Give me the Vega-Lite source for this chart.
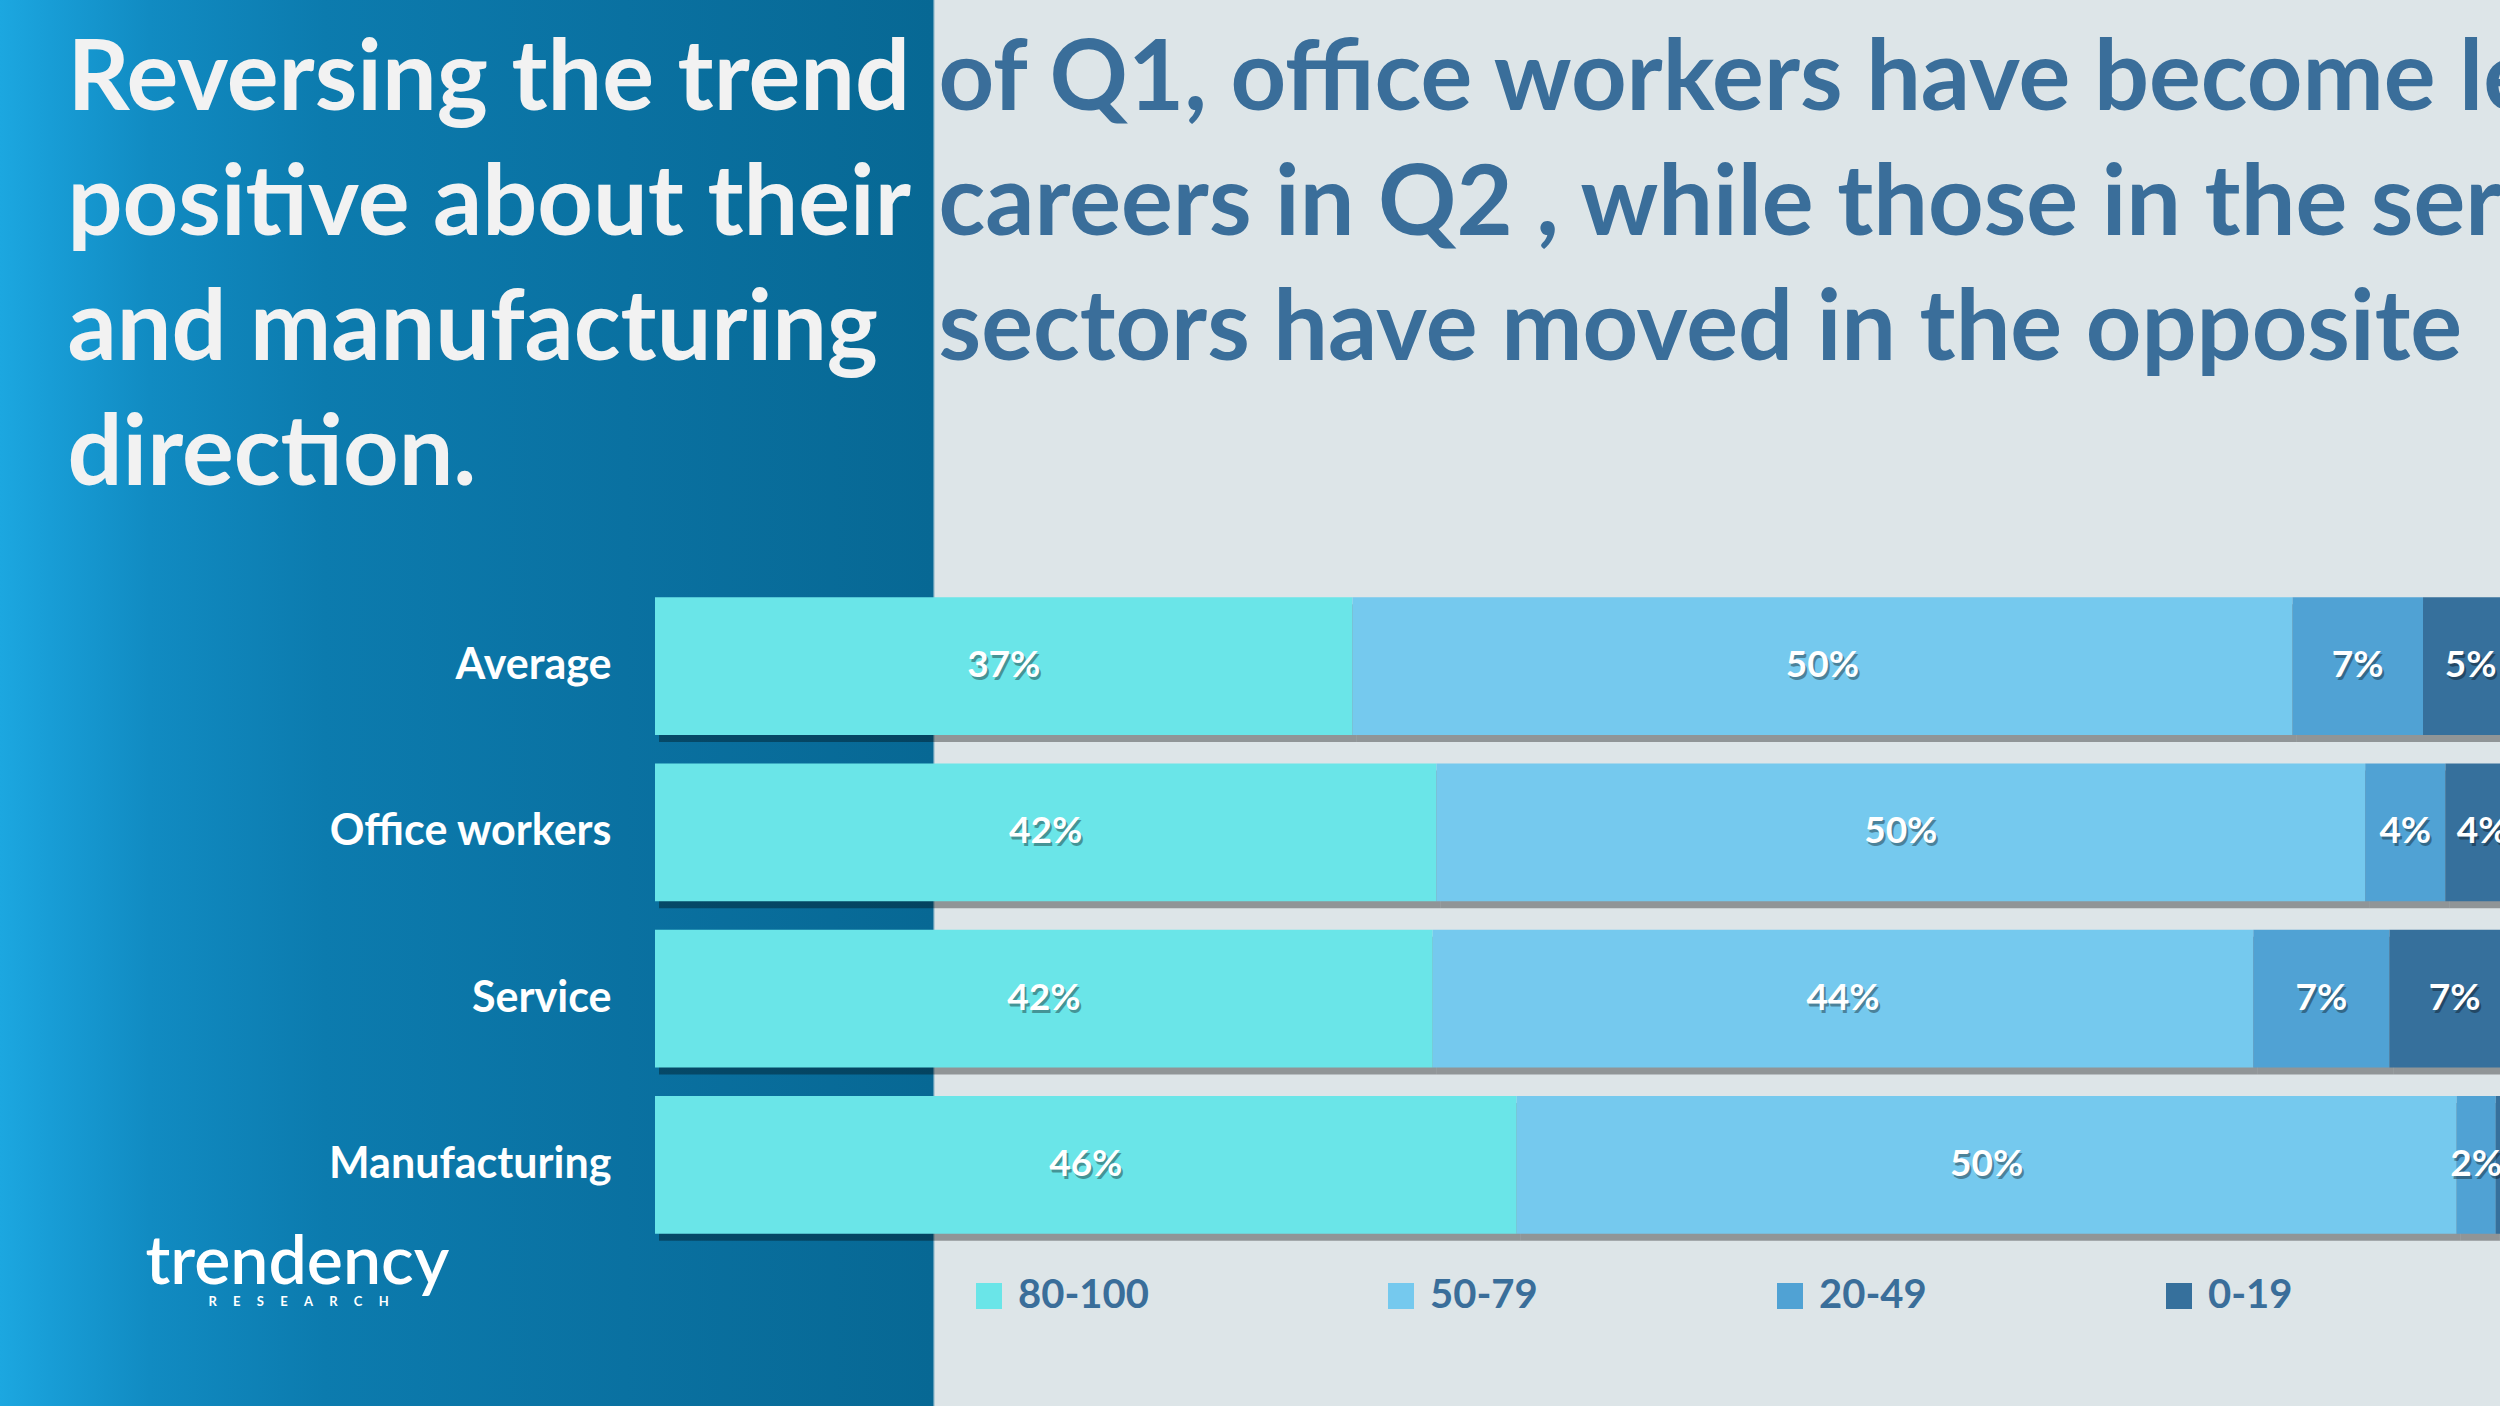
{
  "$schema": "https://vega.github.io/schema/vega-lite/v6.json",
  "width": 2500,
  "height": 1406,
  "autosize": {"type": "none"},
  "padding": 0,
  "background": "#DDE5E8",
  "view": {
    "stroke": null,
    "fill": {
      "gradient": "linear", "x1": 0, "y1": 0, "x2": 1, "y2": 0,
      "stops": [
        {"offset": 0, "color": "#1CA7E0"},
        {"offset": 0.02, "color": "#189DD6"},
        {"offset": 0.06, "color": "#118BC2"},
        {"offset": 0.13, "color": "#0C7BAE"},
        {"offset": 0.25, "color": "#0A71A1"},
        {"offset": 0.373, "color": "#076894"},
        {"offset": 0.374, "color": "#DDE5E8"},
        {"offset": 1, "color": "#DDE5E8"}
      ]
    }
  },
  "config": {"font": "Lato", "axis": {"grid": false}},
  "data": {
    "values": [
      {"group": "Average", "band": "80-100", "order": 1, "value": 0.374},
      {"group": "Average", "band": "50-79", "order": 2, "value": 0.504},
      {"group": "Average", "band": "20-49", "order": 3, "value": 0.070},
      {"group": "Average", "band": "0-19", "order": 4, "value": 0.051},
      {"group": "Office workers", "band": "80-100", "order": 1, "value": 0.419},
      {"group": "Office workers", "band": "50-79", "order": 2, "value": 0.498},
      {"group": "Office workers", "band": "20-49", "order": 3, "value": 0.043},
      {"group": "Office workers", "band": "0-19", "order": 4, "value": 0.040},
      {"group": "Service", "band": "80-100", "order": 1, "value": 0.417},
      {"group": "Service", "band": "50-79", "order": 2, "value": 0.440},
      {"group": "Service", "band": "20-49", "order": 3, "value": 0.073},
      {"group": "Service", "band": "0-19", "order": 4, "value": 0.070},
      {"group": "Manufacturing", "band": "80-100", "order": 1, "value": 0.462},
      {"group": "Manufacturing", "band": "50-79", "order": 2, "value": 0.504},
      {"group": "Manufacturing", "band": "20-49", "order": 3, "value": 0.021},
      {"group": "Manufacturing", "band": "0-19", "order": 4, "value": 0.013}
    ]
  },
  "transform": [
    {"stack": "value", "groupby": ["group"], "sort": [{"field": "order"}], "as": ["v0", "v1"]},
    {"calculate": "(datum.v0 + datum.v1) / 2", "as": "mid"}
  ],
  "resolve": {"axis": {"x": "independent", "y": "independent"}},
  "layer": [
    {
      "mark": {"type": "bar", "color": "#000000", "opacity": 0.35, "yOffset": 7, "xOffset": 4, "x2Offset": 4, "clip": true},
      "encoding": {
        "y": {"field": "group", "type": "nominal", "sort": ["Average", "Office workers", "Service", "Manufacturing"],
              "scale": {"range": [583, 1248], "paddingInner": 0.17, "paddingOuter": 0.085}, "axis": null},
        "x": {"field": "v0", "type": "quantitative", "scale": {"domain": [0, 1], "range": [655, 2520], "nice": false, "zero": false}, "axis": null},
        "x2": {"field": "v1"}
      }
    },
    {
      "mark": {"type": "bar", "clip": true},
      "encoding": {
        "y": {"field": "group", "type": "nominal", "sort": ["Average", "Office workers", "Service", "Manufacturing"],
              "axis": {
                "orient": "left", "offset": -655, "domain": false, "ticks": false, "tickSize": 0, "grid": false,
                "labelPadding": 44, "labelLimit": 700, "labelFontSize": 43, "labelFontWeight": "bold", "labelColor": "#FFFFFF", "labelFont": "Lato",
                "title": ["Reversing the trend", "positive about their", "and  manufacturing", "direction."],
                "titleX": -588, "titleY": 109, "titleAngle": 0, "titleAlign": "left", "titleBaseline": "alphabetic",
                "titleFontSize": 97, "titleFontWeight": "bold", "titleColor": "#F2F2F2", "titleFont": "Lato", "titleLineHeight": 125, "titleLimit": 4000
              }},
        "x": {"field": "v0", "type": "quantitative",
              "axis": {
                "orient": "top", "domain": false, "ticks": false, "labels": false, "grid": false,
                "title": ["of Q1, office workers have become less", "careers in Q2 , while those in the service", "sectors have moved in the opposite"],
                "titleX": 938, "titleY": 109, "titleAngle": 0, "titleAlign": "left", "titleBaseline": "alphabetic", "titleAnchor": "start",
                "titleFontSize": 97, "titleFontWeight": "bold", "titleColor": "#3A6E9A", "titleFont": "Lato", "titleLineHeight": 125, "titleLimit": 4000
              }},
        "x2": {"field": "v1"},
        "color": {
          "field": "band", "type": "nominal",
          "scale": {"domain": ["80-100", "50-79", "20-49", "0-19"], "range": ["#6AE5E8", "#75C9EE", "#50A2D4", "#36709C"]},
          "legend": {
            "title": null, "orient": "none", "legendX": 969, "legendY": 1276, "direction": "horizontal", "columns": 4,
            "symbolType": "square", "symbolSize": 676, "symbolStrokeWidth": 0, "labelOffset": 9, "columnPadding": 232,
            "labelFontSize": 40, "labelFontWeight": "bold", "labelColor": "#3A6E9A", "labelFont": "Lato", "padding": 0, "labelLimit": 400
          }
        }
      }
    },
    {
      "transform": [{"filter": "datum.value >= 0.02"}],
      "mark": {"type": "text", "color": "#000000", "opacity": 0.35, "dx": 2, "dy": 3, "fontSize": 37, "fontWeight": "bold", "font": "Lato", "clip": true},
      "encoding": {
        "y": {"field": "group", "type": "nominal", "sort": ["Average", "Office workers", "Service", "Manufacturing"], "axis": null},
        "x": {"field": "mid", "type": "quantitative", "axis": null},
        "text": {"field": "value", "type": "quantitative", "format": ".0%"}
      }
    },
    {
      "transform": [{"filter": "datum.value >= 0.02"}],
      "mark": {"type": "text", "color": "#FFFFFF", "fontSize": 37, "fontWeight": "bold", "font": "Lato", "clip": true},
      "encoding": {
        "y": {"field": "group", "type": "nominal", "sort": ["Average", "Office workers", "Service", "Manufacturing"],
              "axis": {
                "orient": "left", "offset": 0, "domain": false, "ticks": false, "labels": false, "grid": false,
                "title": "R\u2003\u2002E\u2003\u2002S\u2003\u2002E\u2003\u2002A\u2003\u2002R\u2003\u2002C\u2003\u2002H",
                "titleX": 208, "titleY": 1305, "titleAngle": 0, "titleAlign": "left", "titleBaseline": "alphabetic",
                "titleFontSize": 13, "titleFontWeight": "bold", "titleColor": "#FFFFFF", "titleFont": "Lato", "titleLimit": 1000
              }},
        "x": {"field": "mid", "type": "quantitative",
              "axis": {
                "orient": "bottom", "domain": false, "ticks": false, "labels": false, "grid": false,
                "title": "trendency", "titleX": 145, "titleY": -123, "titleAngle": 0, "titleAlign": "left", "titleBaseline": "alphabetic", "titleAnchor": "start",
                "titleFontSize": 68, "titleFontWeight": 600, "titleColor": "#FFFFFF", "titleFont": "Lato", "titleLimit": 1000
              }},
        "text": {"field": "value", "type": "quantitative", "format": ".0%"}
      }
    }
  ]
}
